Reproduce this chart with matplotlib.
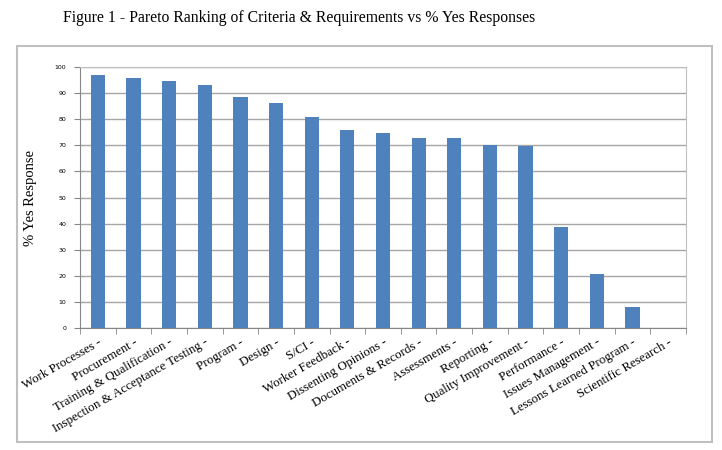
import matplotlib; matplotlib.use("Agg")
import matplotlib.pyplot as plt
from matplotlib.patches import Rectangle
import numpy as np

categories = ["Work Processes -", "Procurement -", "Training & Qualification -",
              "Inspection & Acceptance Testing -", "Program -", "Design -", "S/CI -",
              "Worker Feedback -", "Dissenting Opinions -", "Documents & Records -",
              "Assessments -", "Reporting -", "Quality Improvement -", "Performance -",
              "Issues Management -", "Lessons Learned Program -", "Scientific Research -"]
yes_pct = [96.8, 95.9, 94.6, 93.1, 88.4, 86.3, 80.8, 76.0, 74.9, 72.9, 72.9,
           70.1, 69.6, 38.7, 20.8, 7.9, 0.0]
yticks = list(range(0, 101, 10))

SERIF = ["Liberation Serif", "DejaVu Serif"]
BAR = "#4F81BD"

fig = plt.figure(figsize=(7.22, 4.5), dpi=100)
ax = fig.add_axes([80/722, 1 - 328/450, (686 - 80)/722, (328 - 67)/450])

# outer frame around the chart
fig.patches.append(Rectangle((17/722, 1 - 442/450), (712 - 17)/722, (442 - 46)/450,
                             transform=fig.transFigure, fill=False,
                             edgecolor="#BFBFBF", lw=1.5))

x = np.arange(len(categories))
ax.bar(x, yes_pct, width=0.4, color=BAR, zorder=3)

ax.set_xlim(-0.5, len(categories) - 0.5)
ax.set_ylim(0, 100)
ax.set_yticks(yticks)
ax.set_yticklabels([str(t) for t in yticks], fontsize=4.5, family="DejaVu Sans")
ax.grid(axis="y", color="#A6A6A6", lw=1, zorder=0)

ax.set_xticks(x)
ax.set_xticklabels(categories, rotation=30, ha="right", rotation_mode="anchor",
                   fontsize=9.3, family=SERIF)
ax.set_xticks(np.arange(-0.5, len(categories) + 0.5, 1), minor=True)
ax.tick_params(axis="x", which="major", length=0, pad=6)
ax.tick_params(axis="x", which="minor", length=4, color="#868686")
ax.tick_params(axis="y", length=4, color="#868686", pad=6)

for side in ["top", "right"]:
    ax.spines[side].set_color("#BFBFBF")
for side in ["left", "bottom"]:
    ax.spines[side].set_color("#868686")

ax.set_ylabel("% Yes Response", family=SERIF, fontsize=10.5)
ax.yaxis.set_label_coords(-0.071, 0.5)

fig.text(63/722, 1 - 18/450, "Figure 1 - Pareto Ranking of Criteria & Requirements vs % Yes Responses",
         family=SERIF, fontsize=11.3, va="center", ha="left")

fig.savefig("out.png", dpi=100)
plt.close()
